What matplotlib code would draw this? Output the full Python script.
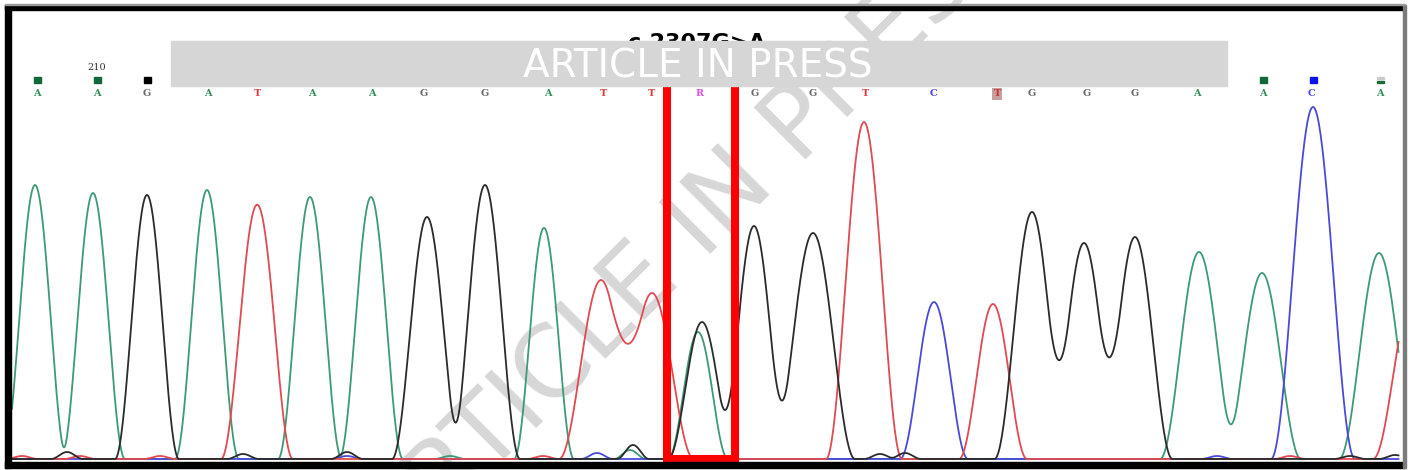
import numpy as np
import matplotlib.pyplot as plt
from matplotlib.patches import Rectangle

# trace peaks (scan position, signal height, half base width, channel)
peak_pos = [35, 93, 147, 207, 257, 310, 371, 427, 485, 544, 601, 652, 698, 702,
            754, 813, 864, 934, 993, 1032, 1084, 1135, 1199, 1262, 1313, 1379, 1413]
peak_height = [274, 266, 264, 269, 254, 262, 262, 242, 274, 231, 179, 166, 127, 137,
               233, 226, 337, 157, 155, 247, 216, 222, 207, 186, 352, 206, 165]
peak_width = [32, 32, 32, 32, 36, 32, 32, 35, 35, 30, 42, 42, 30, 34,
              35, 42, 38, 34, 34, 37.5, 37.5, 37.5, 39, 39, 42, 40, 40]
peak_base = ['A', 'A', 'G', 'A', 'T', 'A', 'A', 'G', 'G', 'A', 'T', 'T', 'A', 'G',
             'G', 'G', 'T', 'C', 'T', 'G', 'G', 'G', 'A', 'A', 'C', 'A', 'T']

# small background bumps
minor_pos = [22, 67, 80, 160, 243, 270, 347, 347, 450, 543, 597, 633, 630, 880, 905,
             1217, 1290, 1350, 1395]
minor_height = [3, 7, 3, 3, 5, 3, 7, 3, 3, 3, 6, 14, 9, 5, 6, 3, 3, 3, 4]
minor_base = ['T', 'G', 'T', 'T', 'G', 'T', 'G', 'C', 'A', 'T', 'C', 'G', 'A', 'G', 'G',
              'C', 'T', 'G', 'G']

# base calls on top
call_pos = [37, 97, 147, 208, 258, 312, 372, 424, 485, 548, 603, 652, 700, 755, 813,
            865, 934, 997, 1032, 1087, 1135, 1197, 1263, 1312, 1380]
call_base = list('AAGATAAGGATTRGGTCTGGGAACA')
qual_pos = [37, 97, 147, 1263, 1313]
qual_color = ['#11663a', '#11663a', '#000000', '#11663a', '#0a14e6']

colors = {'A': '#3d9a74', 'G': '#2b2b2b', 'T': '#e04a50', 'C': '#4a4ad8', 'R': '#e060e0'}
label_colors = {'A': '#2f8a55', 'G': '#6a6a6a', 'T': '#e03a3a', 'C': '#4545e0', 'R': '#e050e0'}

BASE = 459  # pixel row of the trace baseline


def sy(y_px):
    return BASE - y_px


def bump(x, p, h, w):
    d = np.clip((x - p) / w, -1, 1)
    return h * np.cos(np.pi * d / 2) ** 2


fig = plt.figure(figsize=(14.09, 4.70), dpi=100)
ax = fig.add_axes([0, 0, 1, 1])
ax.set_xlim(0, 1409)
ax.set_ylim(sy(470), sy(0))
ax.axis('off')

# diagonal watermark (under the traces)
ax.text(690, sy(236), 'ARTICLE IN PRESS', fontsize=71, color='#d7d7d7',
        rotation=45, ha='center', va='center', zorder=1, rotation_mode='anchor')

x = np.arange(12, 1399, 0.5)
for ch in ['A', 'C', 'T', 'G']:
    y = np.zeros_like(x)
    for p, h, w, b in zip(peak_pos, peak_height, peak_width, peak_base):
        if b == ch:
            y += bump(x, p, h, w)
    for p, h, b in zip(minor_pos, minor_height, minor_base):
        if b == ch:
            y += bump(x, p, h, 16)
    ax.plot(x, y, color=colors[ch], lw=1.3, zorder=3)

# base call letters
for p, b in zip(call_pos, call_base):
    if p == 997:
        ax.text(p, sy(94), b, color='#d03030', fontsize=7, ha='center', va='center',
                family='DejaVu Serif', fontweight='bold', zorder=4,
                bbox=dict(boxstyle='square,pad=0.12', fc='#c4a0a0', ec='none'))
    else:
        ax.text(p, sy(94), b, color=label_colors[b], fontsize=7, ha='center', va='center',
                family='DejaVu Serif', fontweight='bold', zorder=4)
for p, c in zip(qual_pos, qual_color):
    ax.add_patch(Rectangle((p - 3.5, sy(83)), 7, 6, color=c, zorder=4))
ax.add_patch(Rectangle((1376.5, sy(79)), 7, 2.5, color='#cccccc', zorder=4))
ax.add_patch(Rectangle((1376.5, sy(83)), 7, 2.5, color='#1f6b3a', zorder=4))
ax.text(97, sy(68), '210', fontsize=7, color='#333333', ha='center', va='center',
        family='DejaVu Serif')

# title (mostly hidden behind the banner)
ax.text(697, sy(49), 'c.2307G>A', fontsize=16, fontweight='bold', ha='center',
        va='baseline', color='black', zorder=5)

# highlighted variant position
ax.add_patch(Rectangle((667, sy(459)), 68, 400, fill=False, ec='#ff0000',
                       lw=5.8, zorder=6, joinstyle='miter'))

# banner watermark
ax.add_patch(Rectangle((171, sy(86)), 1056, 45, color='#d6d6d6', zorder=8))
ax.text(698, sy(77), 'ARTICLE IN PRESS', fontsize=28, color='white', ha='center',
        va='baseline', zorder=9)

# frame
ax.add_patch(Rectangle((5, sy(10)), 1400, 5, color='black', zorder=10, clip_on=False))
ax.add_patch(Rectangle((5, sy(468)), 6, 463, color='black', zorder=10, clip_on=False))
ax.add_patch(Rectangle((5, sy(468)), 1400, 6, color='black', zorder=10, clip_on=False))
ax.add_patch(Rectangle((1403, sy(468)), 2.5, 463, color='#7a7a7a', zorder=10,
                       clip_on=False))
ax.add_patch(Rectangle((5, sy(5)), 1400, 1.5, color='#9a9a9a', zorder=10, clip_on=False))

fig.savefig('out.png', dpi=100)
